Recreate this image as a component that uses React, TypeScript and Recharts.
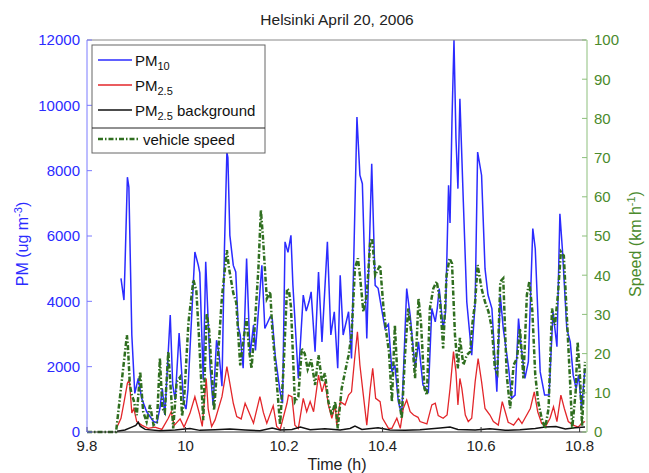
import { LineChart, Line, XAxis, YAxis } from "recharts";

const FONT = "'Liberation Sans', Arial, sans-serif";
const BLUE = "#2b2bff";
const RED = "#e3262a";
const BLACK = "#111111";
const GREEN = "#2f6e1f";
const GREEN_TEXT = "#4a8a2c";

const timeTicks = [9.8, 10, 10.2, 10.4, 10.6, 10.8];
const pmTicks = [0, 2000, 4000, 6000, 8000, 10000, 12000];
const speedTicks = [0, 10, 20, 30, 40, 50, 60, 70, 80, 90, 100];

// PM10 (ug m-3)
const pm10Time = [
  9.869, 9.875, 9.877, 9.882, 9.885, 9.891, 9.897, 9.904, 9.911, 9.921,
  9.935, 9.942, 9.948, 9.953, 9.958, 9.969, 9.974, 9.979, 9.987, 9.996,
  10.001, 10.005, 10.019, 10.026, 10.029, 10.036, 10.041, 10.05, 10.056, 10.063,
  10.068, 10.074, 10.079, 10.084, 10.086, 10.09, 10.097, 10.102, 10.107, 10.111,
  10.117, 10.124, 10.131, 10.138, 10.142, 10.147, 10.155, 10.161, 10.172, 10.176,
  10.182, 10.192, 10.197, 10.202, 10.208, 10.214, 10.218, 10.229, 10.239, 10.245,
  10.251, 10.255, 10.263, 10.27, 10.277, 10.288, 10.295, 10.302, 10.309, 10.314,
  10.32, 10.331, 10.337, 10.348, 10.354, 10.359, 10.368, 10.378, 10.385, 10.391,
  10.398, 10.405, 10.412, 10.419, 10.425, 10.432, 10.439, 10.449, 10.456, 10.466,
  10.473, 10.482, 10.493, 10.5, 10.507, 10.511, 10.515, 10.523, 10.528, 10.534,
  10.537, 10.541, 10.545, 10.549, 10.553, 10.557, 10.564, 10.571, 10.581, 10.588,
  10.593, 10.601, 10.608, 10.614, 10.622, 10.632, 10.639, 10.645, 10.656, 10.662,
  10.669, 10.676, 10.681, 10.689, 10.696, 10.705, 10.71, 10.72, 10.729, 10.738,
  10.746, 10.754, 10.76, 10.765, 10.774, 10.781, 10.787, 10.793, 10.798, 10.804,
  10.811,
];
const pm10Values = [
  4700, 4040, 5000, 7800, 7500, 2970, 1180, 1640, 1030, 620,
  320, 280, 720, 1330, 520, 3580, 1440, 980, 3030, 930,
  700, 1300, 5510, 5100, 4870, 1600, 5210, 1950, 830, 2810,
  2400, 1400, 5610, 8570, 8400, 6020, 5100, 4900, 3220, 2970,
  1950, 5310, 2350, 3270, 2500, 3500, 5100, 3170, 3530, 3470,
  2350, 1230, 880, 5820, 5500, 6020, 4500, 1640, 4190, 3700,
  4000, 4290, 2460, 4900, 2760, 5820, 2970, 3680, 1950, 4800,
  2970, 3680, 2250, 9640, 7860, 7600, 2860, 8210, 4490, 4400,
  3780, 3170, 3300, 1840, 2050, 930, 520, 4390, 3580, 1950,
  2760, 1440, 1230, 3780, 3370, 3780, 4390, 3170, 3680, 7550,
  6400, 9590, 12000, 9000, 7450, 10200, 7040, 3980, 2350, 3980,
  8570, 7860, 5000, 4200, 3780, 1230, 4190, 3170, 1950, 1030,
  1130, 3470, 2660, 1640, 2150, 6230, 5610, 1840, 1130, 1130,
  3680, 2610, 6680, 5610, 3170, 2760, 1740, 1330, 1740, 720,
  1950,
];

// PM2.5 (ug m-3)
const pm25Time = [
  9.861, 9.869, 9.875, 9.882, 9.886, 9.891, 9.895, 9.901, 9.911, 9.924,
  9.938, 9.952, 9.965, 9.971, 9.977, 9.989, 9.997, 10.009, 10.019, 10.028,
  10.034, 10.042, 10.046, 10.053, 10.06, 10.074, 10.084, 10.09, 10.097, 10.104,
  10.113, 10.121, 10.129, 10.138, 10.151, 10.158, 10.165, 10.178, 10.185, 10.192,
  10.206, 10.209, 10.216, 10.222, 10.229, 10.239, 10.246, 10.253, 10.26, 10.27,
  10.277, 10.283, 10.29, 10.297, 10.304, 10.307, 10.314, 10.324, 10.331, 10.337,
  10.344, 10.349, 10.354, 10.361, 10.368, 10.375, 10.38, 10.386, 10.395, 10.4,
  10.412, 10.419, 10.429, 10.436, 10.442, 10.449, 10.456, 10.463, 10.472, 10.476,
  10.49, 10.5, 10.507, 10.513, 10.523, 10.531, 10.537, 10.544, 10.549, 10.553,
  10.557, 10.561, 10.568, 10.574, 10.581, 10.588, 10.594, 10.601, 10.608, 10.618,
  10.625, 10.635, 10.643, 10.649, 10.655, 10.666, 10.676, 10.683, 10.689, 10.7,
  10.708, 10.715, 10.723, 10.732, 10.74, 10.747, 10.754, 10.762, 10.769, 10.777,
  10.787, 10.797, 10.804, 10.811,
];
const pm25Values = [
  150, 420, 900, 1490, 1600, 580, 720, 320, 210, 110,
  150, 80, 420, 620, 200, 400, 150, 570, 1080, 570,
  170, 1640, 710, 170, 370, 1080, 2000, 1490, 880, 470,
  400, 880, 600, 270, 1080, 600, 270, 800, 170, 70,
  880, 1130, 1080, 210, 110, 1030, 620, 930, 620, 1740,
  1230, 1540, 830, 420, 830, 210, 930, 830, 1130, 1230,
  2350, 3070, 2050, 1130, 210, 1330, 1950, 1030, 930, 420,
  110, 110, 420, 110, 720, 980, 620, 520, 450, 320,
  250, 830, 880, 500, 420, 520, 1330, 2460, 1840, 830,
  1640, 1330, 520, 320, 420, 1540, 2250, 1540, 720, 520,
  320, 210, 930, 620, 300, 210, 420, 260, 420, 720,
  1230, 620, 260, 200, 420, 770, 320, 1130, 720, 320,
  210, 150, 260, 320,
];

// PM2.5 background (ug m-3)
const bgTime = [
  9.861, 9.877, 9.891, 9.899, 9.904, 9.908, 9.918, 9.948, 9.979, 10.009,
  10.029, 10.06, 10.09, 10.121, 10.151, 10.176, 10.192, 10.216, 10.233, 10.253,
  10.283, 10.314, 10.334, 10.344, 10.358, 10.391, 10.415, 10.446, 10.476, 10.517,
  10.537, 10.553, 10.588, 10.618, 10.649, 10.679, 10.71, 10.73, 10.752, 10.771,
  10.791, 10.811,
];
const bgValues = [
  20, 60, 150, 200, 300, 180, 80, 40, 60, 110,
  50, 70, 90, 60, 40, 120, 60, 80, 150, 70,
  100, 60, 110, 180, 80, 130, 60, 50, 70, 120,
  150, 80, 60, 100, 50, 70, 110, 150, 170, 90,
  130, 150,
];

// vehicle speed (km/h)
const speedTime = [
  9.8, 9.859, 9.881, 9.883, 9.887, 9.891, 9.895, 9.901, 9.908, 9.914,
  9.921, 9.928, 9.935, 9.942, 9.948, 9.953, 9.958, 9.965, 9.971, 9.975,
  9.982, 9.989, 9.993, 9.997, 10.006, 10.016, 10.022, 10.027, 10.036, 10.043,
  10.048, 10.058, 10.067, 10.074, 10.084, 10.088, 10.097, 10.103, 10.111, 10.117,
  10.124, 10.129, 10.134, 10.14, 10.148, 10.153, 10.157, 10.165, 10.172, 10.176,
  10.183, 10.192, 10.199, 10.206, 10.21, 10.214, 10.222, 10.229, 10.236, 10.242,
  10.248, 10.255, 10.263, 10.27, 10.277, 10.283, 10.29, 10.297, 10.304, 10.309,
  10.317, 10.324, 10.331, 10.337, 10.344, 10.35, 10.354, 10.361, 10.368, 10.375,
  10.379, 10.385, 10.395, 10.402, 10.409, 10.413, 10.419, 10.425, 10.432, 10.439,
  10.446, 10.452, 10.459, 10.466, 10.473, 10.478, 10.485, 10.49, 10.496, 10.503,
  10.51, 10.517, 10.523, 10.53, 10.536, 10.541, 10.547, 10.553, 10.557, 10.564,
  10.571, 10.578, 10.582, 10.588, 10.593, 10.601, 10.608, 10.615, 10.622, 10.628,
  10.633, 10.639, 10.645, 10.652, 10.659, 10.666, 10.673, 10.679, 10.686, 10.693,
  10.698, 10.704, 10.71, 10.716, 10.723, 10.73, 10.737, 10.744, 10.75, 10.756,
  10.762, 10.768, 10.776, 10.781, 10.785, 10.792, 10.796, 10.801, 10.805, 10.811,
];
const speedValues = [
  0, 0, 24.7, 22, 12, 9.4, 8, 4.3, 15.4, 5.2,
  2.6, 6.9, 1.8, 2.5, 18.8, 6, 5, 20.5, 9, 0.9,
  12.8, 14, 4, 8, 28, 38.8, 36, 25, 3, 30.3,
  26, 5.6, 21.3, 34.5, 46.4, 42, 35.4, 33, 17, 23,
  29, 21, 16.2, 26, 41.8, 56.6, 50, 34, 35.8, 26.4,
  16.2, 1.8, 16.2, 36.6, 36, 32, 7.7, 9, 21.3, 20,
  16, 18.5, 12, 19.6, 12.8, 15, 7.7, 4.3, 7.7, 0.9,
  11.1, 15.4, 19.6, 24.7, 41.8, 44.3, 40, 30.7, 35, 48.6,
  49.4, 40, 42.6, 31.5, 24, 20.5, 7.7, 27.3, 9.4, 3.5,
  20.5, 31.5, 24.7, 13.7, 34.1, 28, 11.1, 9.4, 31.5, 36.6,
  38.4, 33.2, 21.3, 40, 44.3, 43, 24.7, 16.2, 24, 17.1,
  19.6, 20.5, 27.3, 33.2, 42.6, 36.6, 33.2, 30.7, 26.4, 16.2,
  15, 38.4, 39.2, 14.5, 6, 17.1, 18.8, 26.4, 13.7, 35,
  38.4, 31, 14.5, 7.7, 3.5, 0.9, 6, 31.5, 27.3, 35,
  46, 45, 24.7, 12, 0.9, 10.3, 23, 13.7, 1.5, 17.9,
];

function toPoints(times: number[], values: number[]) {
  return times.map((t, i) => ({ t, v: values[i] }));
}

const pm10Data = toPoints(pm10Time, pm10Values);
const pm25Data = toPoints(pm25Time, pm25Values);
const bgData = toPoints(bgTime, bgValues);
const speedData = toPoints(speedTime, speedValues);

const SPEED_DASH = "5 2 1.5 2";

function Overlay() {
  return (
    <svg
      width={649}
      height={473}
      style={{ position: "absolute", left: 0, top: 0, pointerEvents: "none" }}
      fontFamily={FONT}
    >
      <text x={337} y={25} textAnchor="middle" fontSize={15.5} fill="#222">
        Helsinki April 20, 2006
      </text>
      <text x={337} y={470} textAnchor="middle" fontSize={16} fill="#222">
        Time (h)
      </text>
      <text transform="translate(28,244) rotate(-90)" textAnchor="middle" fontSize={16} fill={BLUE}>
        PM (ug m<tspan dy={-6} fontSize={11}>-3</tspan>
        <tspan dy={6}>)</tspan>
      </text>
      <text transform="translate(641,244) rotate(-90)" textAnchor="middle" fontSize={16} fill={GREEN_TEXT}>
        Speed (km h<tspan dy={-6} fontSize={11}>-1</tspan>
        <tspan dy={6}>)</tspan>
      </text>

      {/* legend */}
      <rect x={92} y={45} width={173} height={108} fill="#fff" stroke="#666" />
      <line x1={92} x2={265} y1={128} y2={128} stroke="#222" />
      <g fontSize={15} fill="#111">
        <line x1={98} x2={132} y1={60} y2={60} stroke={BLUE} strokeWidth={1.5} />
        <text x={135} y={66}>
          PM<tspan dy={4} fontSize={11}>10</tspan>
        </text>
        <line x1={98} x2={132} y1={85} y2={85} stroke={RED} strokeWidth={1.5} />
        <text x={135} y={91}>
          PM<tspan dy={4} fontSize={11}>2.5</tspan>
        </text>
        <line x1={98} x2={132} y1={110} y2={110} stroke={BLACK} strokeWidth={1.5} />
        <text x={135} y={116}>
          PM<tspan dy={4} fontSize={11}>2.5</tspan>
          <tspan dy={-4}> background</tspan>
        </text>
        <line x1={98} x2={138} y1={139} y2={139} stroke={GREEN} strokeWidth={2.5} strokeDasharray={SPEED_DASH} />
        <text x={143} y={145}>vehicle speed</text>
      </g>
    </svg>
  );
}

export default function App() {
  const tickFont = { fontSize: 15, fontFamily: FONT };
  return (
    <div style={{ position: "absolute", left: 0, top: 0, width: 649, height: 473, background: "#fff" }}>
      <LineChart width={649} height={473} margin={{ top: 39, right: 2, bottom: 11, left: 27 }}>
        <XAxis
          type="number"
          dataKey="t"
          domain={[9.8, 10.813]}
          allowDataOverflow
          ticks={timeTicks}
          tickFormatter={(v) => String(v)}
          height={30}
          tickSize={-5}
          tickMargin={13}
          stroke="#333"
          tick={{ ...tickFont, fill: "#222" }}
        />
        <XAxis
          xAxisId="top"
          orientation="top"
          type="number"
          dataKey="t"
          domain={[9.8, 10.813]}
          allowDataOverflow
          ticks={timeTicks}
          height={1}
          tickSize={-5}
          tick={false}
          stroke="#888"
        />
        <YAxis
          yAxisId="pm"
          domain={[0, 12000]}
          ticks={pmTicks}
          width={60}
          tickSize={-5}
          tickMargin={12}
          stroke="#7a7aff"
          tick={{ ...tickFont, fill: BLUE }}
        />
        <YAxis
          yAxisId="pmMirror"
          orientation="right"
          domain={[0, 12000]}
          ticks={pmTicks}
          width={1}
          tickSize={-5}
          tick={false}
          axisLine={false}
          stroke="#7a7aff"
        />
        <YAxis
          yAxisId="speed"
          orientation="right"
          domain={[0, 100]}
          ticks={speedTicks}
          width={60}
          tickSize={-5}
          tickMargin={12}
          stroke="#8dbf7c"
          tick={{ ...tickFont, fill: GREEN_TEXT }}
        />
        <Line
          data={pm10Data}
          dataKey="v"
          yAxisId="pm"
          type="linear"
          stroke={BLUE}
          strokeWidth={1.5}
          dot={false}
          isAnimationActive={false}
        />
        <Line
          data={pm25Data}
          dataKey="v"
          yAxisId="pm"
          type="linear"
          stroke={RED}
          strokeWidth={1.3}
          dot={false}
          isAnimationActive={false}
        />
        <Line
          data={bgData}
          dataKey="v"
          yAxisId="pm"
          type="linear"
          stroke={BLACK}
          strokeWidth={1.5}
          dot={false}
          isAnimationActive={false}
        />
        <Line
          data={speedData}
          dataKey="v"
          yAxisId="speed"
          type="linear"
          stroke={GREEN}
          strokeWidth={2.5}
          strokeDasharray={SPEED_DASH}
          dot={false}
          isAnimationActive={false}
        />
      </LineChart>
      <Overlay />
    </div>
  );
}
